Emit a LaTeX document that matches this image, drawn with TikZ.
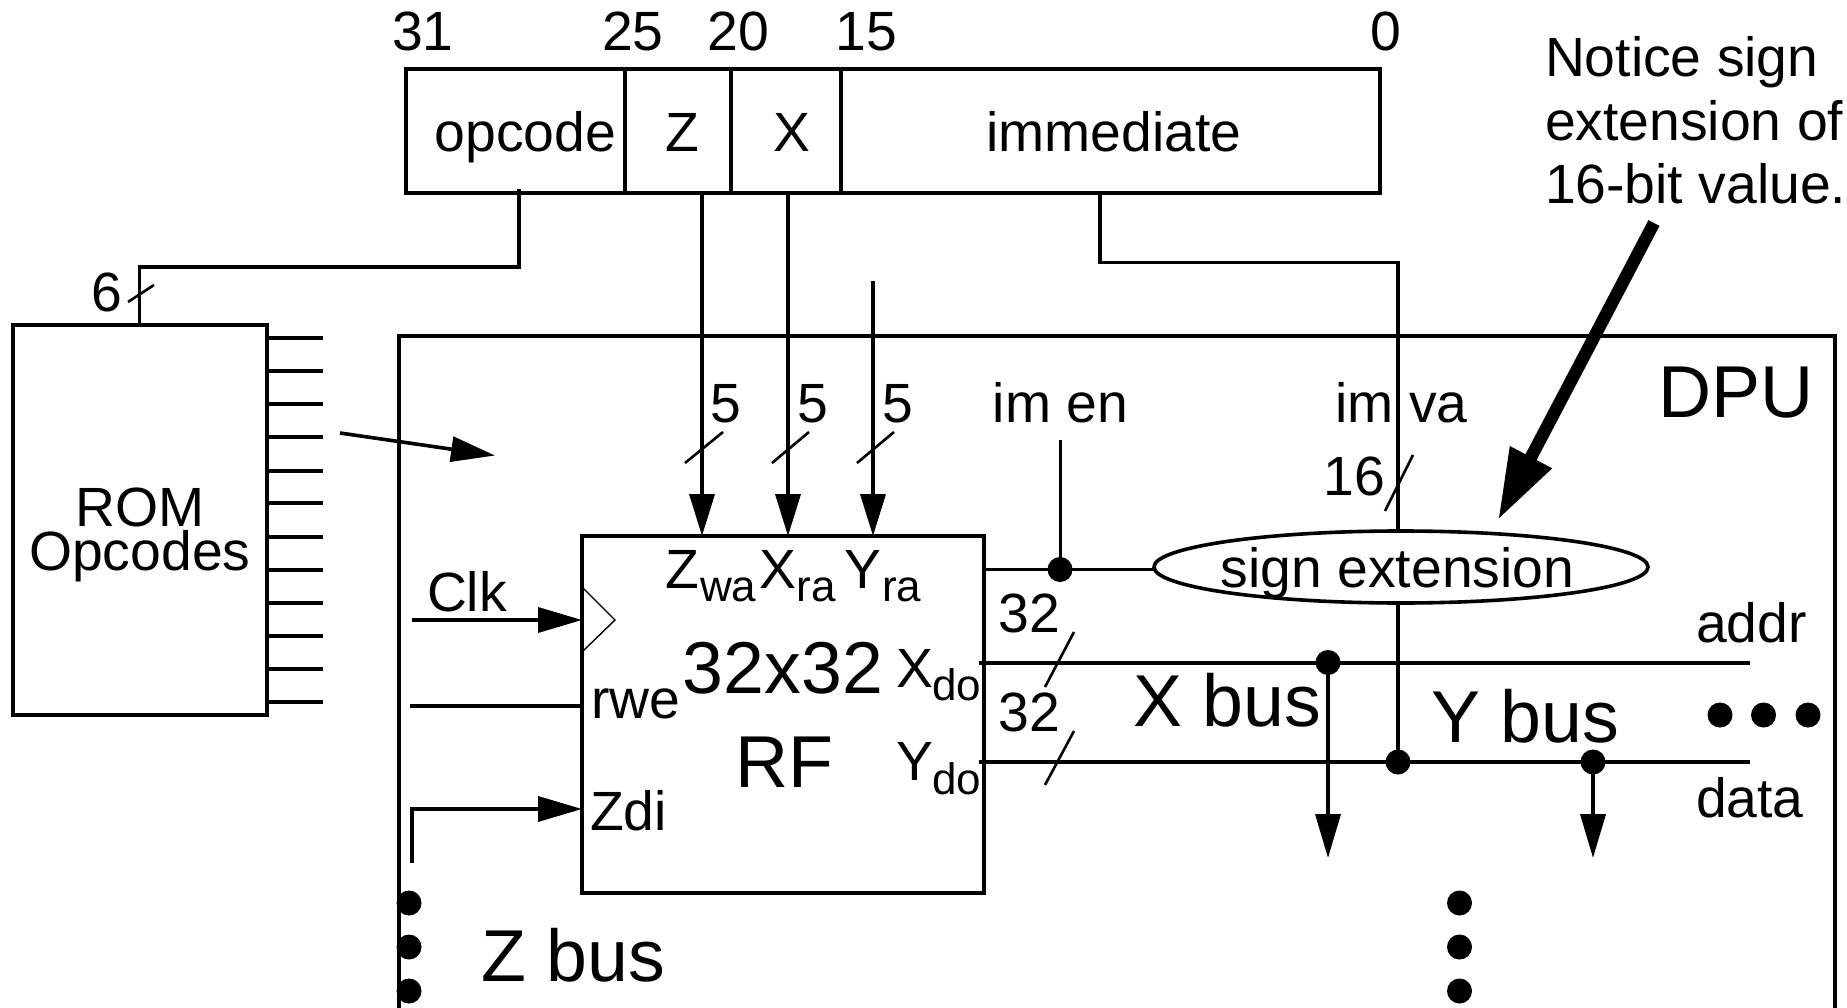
\documentclass[tikz,border=0pt]{standalone}
\usepackage{fontspec}
\setmainfont{Liberation Sans}
\usetikzlibrary{arrows.meta,shapes.geometric}
\tikzset{
  wire/.style={line width=3.6pt},
  thinwire/.style={line width=3pt},
  slashmark/.style={line width=2.6pt},
  boxs/.style={draw,line width=4pt,inner sep=0pt,outer sep=0pt},
  txt/.style={anchor=base,inner sep=0pt,outer sep=0pt,yshift=-1.2pt,font=\fontsize{55.3}{60}\selectfont},
  txtl/.style={txt,anchor=base west},
  big/.style={anchor=base,inner sep=0pt,outer sep=0pt,font=\fontsize{73.5}{78}\selectfont},
  subs/.style={anchor=base west,inner sep=0pt,outer sep=0pt,yshift=-1pt,font=\fontsize{44}{48}\selectfont},
  dotn/.style={circle,fill=black,inner sep=0pt,outer sep=0pt,minimum size=25pt},
  arr/.style={-{Triangle[length=44pt,width=25pt]}},
}
\begin{document}
\begin{tikzpicture}[x=1pt,y=-1pt]
\useasboundingbox (0,0) rectangle (1847,1008);
\fill[white] (0,0) rectangle (1847,1008);

% instruction word
\node[boxs,minimum width=218.5pt,minimum height=124pt] (fop) at (515.25,131) {};
\node[boxs,minimum width=106.5pt,minimum height=124pt] (fz) at (677.75,131) {};
\node[boxs,minimum width=110pt,minimum height=124pt] (fx) at (786,131) {};
\node[boxs,minimum width=539pt,minimum height=124pt] (fimm) at (1110.5,131) {};
\node[txt] (t31) at (423,49) {31};
\node[txt] (t25) at (633,49) {25};
\node[txt] (t20) at (738,49) {20};
\node[txt] (t15) at (866,49) {15};
\node[txt] (t0) at (1386,49) {0};
\node[txt] (lop) at (525.5,150) {opcode};
\node[txt] (lz) at (682,150) {Z};
\node[txt] (lx) at (792,150) {X};
\node[txt] (limm) at (1114,150) {immediate};

% note
\node[txtl] (n1) at (1545,75) {Notice sign};
\node[txtl] (n2) at (1545,139) {extension of};
\node[txtl] (n3) at (1545,202) {16-bit value.};

% ROM
\node[boxs,minimum width=254pt,minimum height=390pt] (rom) at (139.6,520) {};
\node[txt] (rom1) at (139.8,525) {ROM};
\node[txt] (rom2) at (139.8,569) {Opcodes};
\foreach \yy in {338,371,404,437,471,503,537,570,603,636,669,702}
  \draw[wire] (rom.east |- 0,\yy) -- (323,\yy);
\coordinate (opout) at (519,189);
\coordinate (opbend) at (519,267);
\draw[wire] (opout) -- (opbend) -- (rom.north |- opbend) -- (rom.north);
\node[txt] (six) at (107,310) {6};
\coordinate (s6a) at (154,285);
\coordinate (s6b) at (128,302);
\draw[slashmark] (s6a) -- (s6b);

% ROM to DPU arrow
\coordinate (ra) at (340,433);
\coordinate (rb) at (495,455.5);
\draw[wire,arr] (ra) -- (rb);

% DPU frame
\coordinate (d1) at (399,1008);
\coordinate (d2) at (399,336);
\coordinate (d3) at (1835,336);
\coordinate (d4) at (1835,1008);
\draw[wire] (d1) -- (d2) -- (d3) -- (d4);
\node[big] (dpu) at (1736,417) {DPU};

% register file
\node[boxs,minimum width=402pt,minimum height=357pt] (rf) at (783,714.5) {};
\node[big] (r32) at (783,693) {32x32};
\node[big] (rfl) at (784,787) {RF};
\node[txtl] (zw) at (665,587) {Z};
\node[subs] (zws) at (700,600) {wa};
\node[txtl] (xr) at (759.5,587) {X};
\node[subs] (xrs) at (796.5,600) {ra};
\node[txtl] (yr) at (844.5,587) {Y};
\node[subs] (yrs) at (882,600) {ra};
\node[txtl] (xd) at (896.5,686) {X};
\node[subs] (xds) at (932,699) {do};
\node[txtl] (yd) at (896.5,779) {Y};
\node[subs] (yds) at (932,793) {do};
\node[txtl] (rwe) at (591,717) {rwe};
\node[txtl] (zdi) at (590,829) {Zdi};
\node[txt] (clk) at (467,610) {Clk};

% RF inputs
\coordinate (zin) at (702,193);
\coordinate (xin) at (788,193);
\coordinate (yin) at (873,281);
\draw[wire,-{Triangle[length=42pt,width=25pt]}] (zin) -- (rf.north -| zin);
\draw[wire,-{Triangle[length=42pt,width=25pt]}] (xin) -- (rf.north -| xin);
\draw[wire,-{Triangle[length=42pt,width=25pt]}] (yin) -- (rf.north -| yin);
\node[txt] (f1) at (726,421) {5};
\node[txt] (f2) at (812.5,421) {5};
\node[txt] (f3) at (897.5,421) {5};
\coordinate (a1) at (723,432); \coordinate (b1) at (685,463);
\coordinate (a2) at (809,432); \coordinate (b2) at (772,463);
\coordinate (a3) at (894,432); \coordinate (b3) at (857,463);
\draw[slashmark] (a1) -- (b1);
\draw[slashmark] (a2) -- (b2);
\draw[slashmark] (a3) -- (b3);

\coordinate (clkin) at (412,620);
\draw[wire,arr] (clkin) -- (clkin -| rf.west);
\coordinate (ck1) at (583,588);
\coordinate (ck2) at (615,620);
\coordinate (ck3) at (583,651);
\draw[line width=1.4pt] (ck1) -- (ck2) -- (ck3);
\coordinate (rwein) at (410,706);
\draw[wire] (rwein) -- (rwein -| rf.west);
\coordinate (zdia) at (412,863);
\coordinate (zdib) at (412,809);
\draw[wire,arr] (zdia) -- (zdib) -- (zdib -| rf.west);

% immediate path, passing behind the ellipse
\coordinate (imout) at (1100,193);
\coordinate (imb1) at (1100,262.5);
\coordinate (imb2) at (1398,262.5);
\node[dotn] (jy) at (1398,762) {};
\draw[wire] (imout) -- (imb1) -- (imb2) -- (jy.center);
\node[draw,fill=white,line width=3.6pt,ellipse,inner sep=0pt,outer sep=0pt,minimum width=494pt,minimum height=72pt] (se) at (1401,567) {};
\node[txt] (set) at (1397.5,586) {sign extension};
\node[dotn] (jen) at (1060,569.5) {};
\coordinate (enin) at (1060,440);
\draw[thinwire] (enin) -- (jen.center);
\draw[wire] (rf.east |- jen) -- (se.west |- jen);
\node[txt] (imen) at (1060.5,421) {im en};
\node[txt] (imva) at (1401.5,421) {im va};
\node[txt] (s16) at (1354,494) {16};
\coordinate (a16) at (1413,455); \coordinate (b16) at (1385,511);
\draw[slashmark] (a16) -- (b16);

% buses
\coordinate (xb1) at (978.5,663);
\coordinate (xb2) at (1750,663);
\coordinate (yb1) at (978.5,762);
\coordinate (yb2) at (1750,762);
\draw[wire] (xb1) -- (xb2);
\draw[wire] (yb1) -- (yb2);
\node[dotn] (jx) at (1328,662.5) {};
\node[dotn] (jz) at (1593,762) {};
\coordinate (xout) at (1328,858);
\coordinate (yout) at (1593,858);
\draw[wire,arr] (jx.center) -- (xout);
\draw[wire,arr] (jz.center) -- (yout);
\node[txt] (w1) at (1029,631) {32};
\node[txt] (w2) at (1029,730) {32};
\coordinate (a32) at (1074,632); \coordinate (b32) at (1045,687);
\coordinate (c32) at (1074,731); \coordinate (d32) at (1045,785);
\draw[slashmark] (a32) -- (b32);
\draw[slashmark] (c32) -- (d32);
\node[big] (xbus) at (1227,726) {X bus};
\node[big] (ybus) at (1525,742) {Y bus};
\node[big] (zbus) at (573,981) {Z bus};
\node[txtl] (addr) at (1696,641) {addr};
\node[txtl] (data) at (1696,816) {data};

% continuation dots
\node[dotn] (e1) at (1720,715) {};
\node[dotn] (e2) at (1763.5,715) {};
\node[dotn] (e3) at (1808,715) {};
\node[dotn] (v1) at (1459.5,903) {};
\node[dotn] (v2) at (1459.5,947) {};
\node[dotn] (v3) at (1459.5,991) {};
\node[dotn] (u1) at (409,903) {};
\node[dotn] (u2) at (409,947) {};
\node[dotn] (u3) at (409,991) {};

% note arrow
\coordinate (na) at (1654,223);
\coordinate (nb) at (1498,520);
\draw[line width=12.5pt,-{Triangle[length=71pt,width=44pt]}] (na) -- (nb);
\end{tikzpicture}
\end{document}
